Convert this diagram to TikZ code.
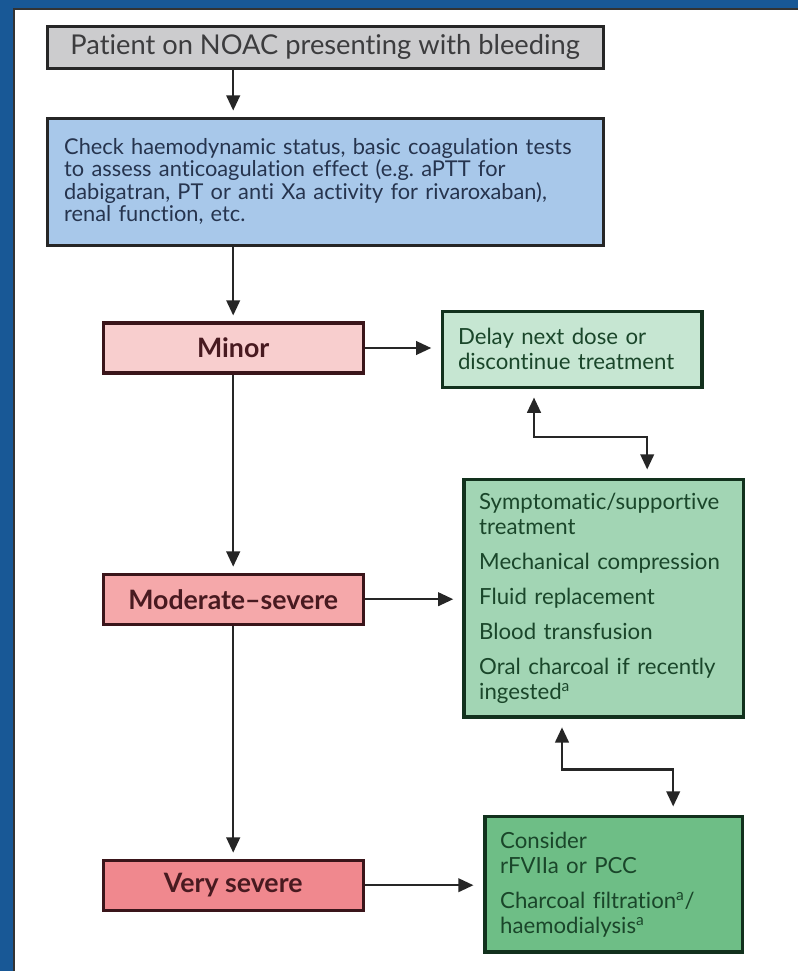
\documentclass[tikz,border=0pt]{standalone}
\usepackage{fontspec}
\setmainfont{Lato}[Ligatures={TeX,NoCommon}]
\usepackage{tikz}
\usetikzlibrary{positioning,arrows.meta}

\definecolor{frameblue}{RGB}{24,88,150}
\definecolor{boxgray}{RGB}{204,204,206}
\definecolor{boxblue}{RGB}{168,200,234}
\definecolor{sevlight}{RGB}{248,206,206}
\definecolor{sevmid}{RGB}{245,168,170}
\definecolor{sevdark}{RGB}{240,136,142}
\definecolor{actlight}{RGB}{198,230,210}
\definecolor{actmid}{RGB}{162,213,180}
\definecolor{actdark}{RGB}{110,190,134}
\definecolor{textgray}{RGB}{60,60,62}
\definecolor{textblue}{RGB}{38,52,78}
\definecolor{sevtext}{RGB}{72,26,32}
\definecolor{acttext}{RGB}{26,70,42}

\begin{document}
\begin{tikzpicture}[
    base/.style   = {draw=black!85,line width=2.2pt,inner sep=0pt,font=\fontsize{15.5}{16}\selectfont},
    start/.style  = {base,fill=boxgray,text=textgray,minimum width=13.9cm,minimum height=1.05cm,font=\fontsize{19.4}{22}\selectfont},
    check/.style  = {base,fill=boxblue,text=textblue,text width=13.05cm,inner xsep=0.425cm,minimum height=3.175cm,align=left},
    sev/.style    = {base,draw=sevtext!80!black,text=sevtext,minimum width=6.5cm,minimum height=1.25cm,font=\fontsize{19}{22}\selectfont\bfseries},
    act/.style    = {base,draw=acttext!70!black,text=acttext,inner xsep=0.38cm,align=left,font=\fontsize{15.8}{17.8}\selectfont},
    arr/.style    = {line width=1.6pt,draw=black!85,-{Triangle[length=3.8mm,width=3.4mm]},shorten >=1.5mm},
    biarr/.style  = {arr,{Triangle[length=3.8mm,width=3.4mm]}-{Triangle[length=3.8mm,width=3.4mm]},shorten <=2.2mm,shorten >=2.2mm}
  ]
  \useasboundingbox (0,0) rectangle (19.95,-24.275);

  % frame
  \fill[frameblue] (0,0) rectangle (19.95,-24.275);
  \fill[white] (0.35,-0.225) rectangle (19.95,-24.275);
  \draw[black!80,line width=1.5pt] (0.35,-24.275) |- (19.95,-0.225);

  \node[start] (start) at (8.13,-1.18) {Patient on NOAC presenting with bleeding};
  \node[check] (check) at (8.13,-4.54) {Check haemodynamic status, basic coagulation tests\\
    to assess anticoagulation effect (e.g.\ aPTT for\\
    dabigatran, PT or anti Xa activity for rivaroxaban),\\
    renal function, etc.};

  \node[sev,fill=sevlight] (sev1) at (5.83,-8.70)  {Minor};
  \node[sev,fill=sevmid]   (sev2) at (5.83,-14.98) {Moderate–severe};
  \node[sev,fill=sevdark]  (sev3) at (5.83,-22.13) {Very severe};

  \node[act,fill=actlight,text width=5.72cm,minimum height=1.9cm] (act1) at (14.31,-8.73) {Delay next dose or\\ discontinue treatment};
  \node[act,fill=actmid,text width=6.22cm,minimum height=5.93cm] (act2) at (15.09,-14.96) {Symptomatic/supportive\\ treatment\\[7pt]
    Mechanical compression\\[7pt]
    Fluid replacement\\[7pt]
    Blood transfusion\\[7pt]
    Oral charcoal if recently\\ ingested\textsuperscript{a}};
  \node[act,fill=actdark,text width=5.67cm,minimum height=3.38cm] (act3) at (15.34,-22.11) {Consider\\ rFVIIa or PCC\\[7pt]
    Charcoal filtration\textsuperscript{a}/\\ haemodialysis\textsuperscript{a}};

  \draw[arr] (start.south -| sev1.north) -- (check.north -| sev1.north);
  \draw[arr] (check.south -| sev1.north) -- (sev1.north);
  \draw[arr] (sev1.south) -- (sev2.north);
  \draw[arr] (sev2.south) -- (sev3.north);

  \draw[arr,shorten >=2.5mm] (sev1.east) -- (sev1.east -| act1.west);
  \draw[arr,shorten >=2.3mm] (sev2.east) -- (sev2.east -| act2.west);
  \draw[arr,shorten >=2.5mm] (sev3.east) -- (sev3.east -| act3.west);

  \draw[biarr] ([xshift=-9.6mm]act1.south) -- ++(0,-1.2) -| ([xshift=10.9mm]act2.north);
  \draw[biarr] ([xshift=-10.4mm]act2.south) -- ++(0,-1.275) -| ([xshift=14.9mm]act3.north);

\end{tikzpicture}
\end{document}
